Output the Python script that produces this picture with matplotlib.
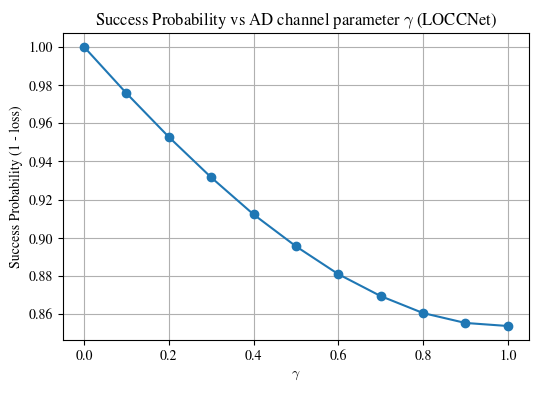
import matplotlib
matplotlib.use("Agg")
import matplotlib.pyplot as plt

plt.rcParams['font.family'] = 'STIXGeneral'
plt.rcParams['mathtext.fontset'] = 'cm'

# AD channel parameter gamma and success probability (1 - loss)
gammas = [0.0, 0.1, 0.2, 0.3, 0.4, 0.5, 0.6, 0.7, 0.8, 0.9, 1.0]
success = [1.000, 0.9757, 0.9528, 0.9316, 0.9122, 0.8955, 0.8809, 0.8694, 0.8605, 0.8553, 0.8537]

fig = plt.figure(figsize=(5.38, 3.93), dpi=100)
ax = fig.add_axes([0.117, 0.135, 0.866, 0.781])
ax.plot(gammas, success, marker='o', color='#1f77b4')
ax.set_title(r"Success Probability vs AD channel parameter $\gamma$ (LOCCNet)")
ax.set_xlabel(r"$\gamma$")
ax.set_ylabel("Success Probability (1 - loss)")
ax.grid(True)
fig.savefig("out.png", dpi=100)
